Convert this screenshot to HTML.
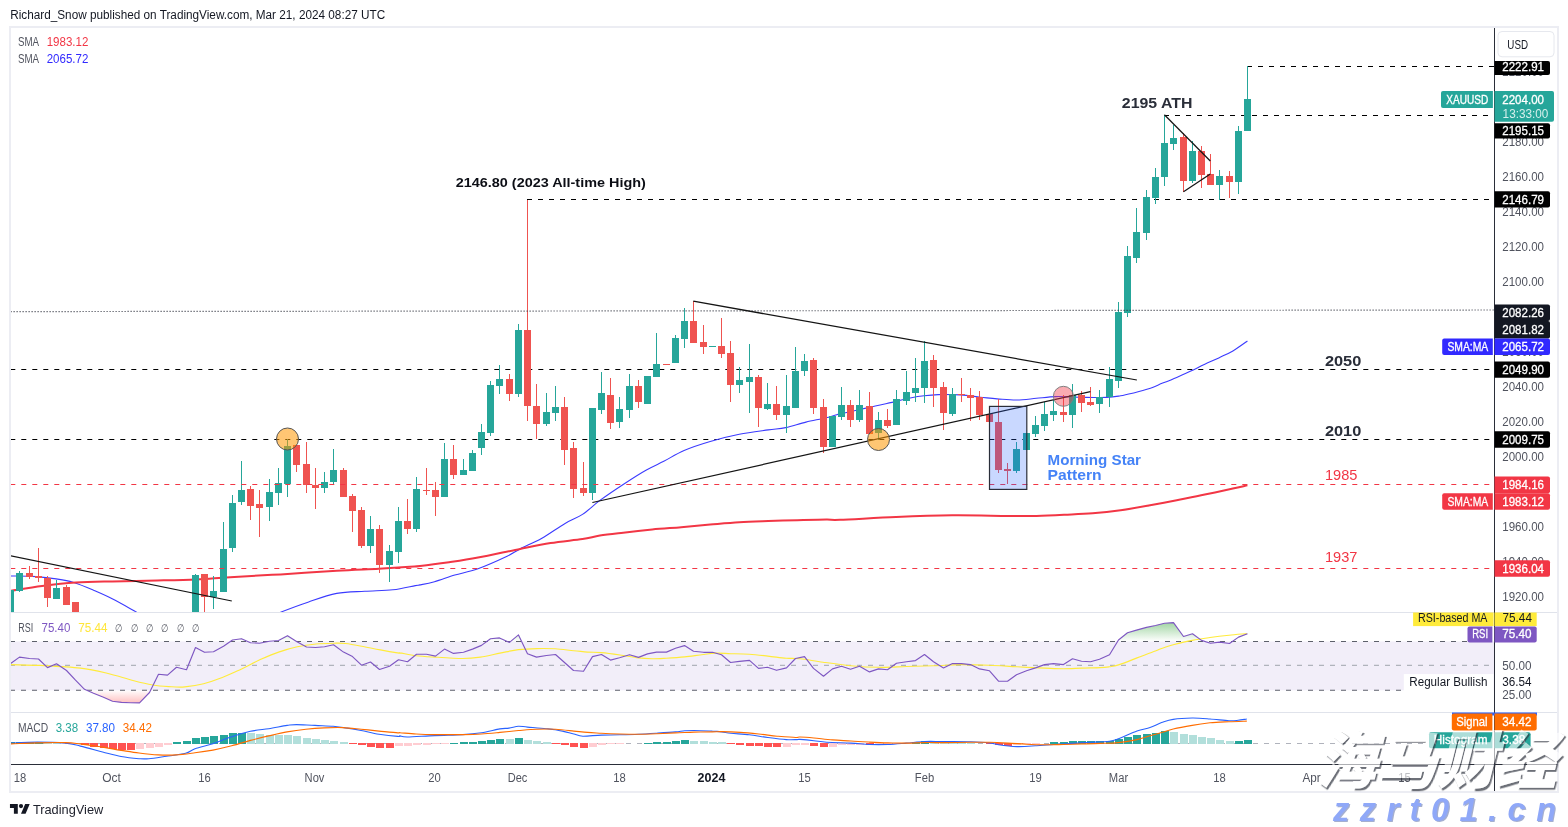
<!DOCTYPE html><html><head><meta charset="utf-8"><title>XAUUSD chart</title>
<style>html,body{margin:0;padding:0;background:#fff}body{width:1568px;height:827px;overflow:hidden;position:relative;font-family:"Liberation Sans",sans-serif}svg{position:absolute;left:0;top:0;display:block;will-change:transform}text{font-family:"Liberation Sans",sans-serif}</style></head><body>
<svg width="1568" height="827" viewBox="0 0 1568 827">
<defs>
<clipPath id="cm"><rect x="11" y="28" width="1483" height="584"/></clipPath>
<clipPath id="cr"><rect x="11" y="613" width="1483" height="99"/></clipPath>
<clipPath id="cd"><rect x="11" y="713" width="1483" height="51"/></clipPath>
<linearGradient id="gob" gradientUnits="userSpaceOnUse" x1="0" y1="605.3" x2="0" y2="641.5"><stop offset="0" stop-color="#4caf50" stop-opacity="1"/><stop offset="1" stop-color="#4caf50" stop-opacity="0"/></linearGradient>
<linearGradient id="gos" gradientUnits="userSpaceOnUse" x1="0" y1="690" x2="0" y2="726"><stop offset="0" stop-color="#ff5252" stop-opacity="0"/><stop offset="1" stop-color="#ff5252" stop-opacity="1"/></linearGradient>
</defs>
<rect width="1568" height="827" fill="#fff"/>
<rect x="10" y="27" width="1548" height="765" fill="none" stroke="#ecedf3" stroke-width="2"/>
<g shape-rendering="crispEdges">
<rect x="11" y="612" width="1546" height="1" fill="#e0e3eb"/>
<rect x="11" y="712" width="1546" height="1" fill="#e0e3eb"/>
</g>
<g clip-path="url(#cm)">
<line x1="10.3" y1="369.5" x2="1494" y2="369.5" stroke="#000" stroke-width="1.2" stroke-dasharray="5 6"/>
<line x1="10.3" y1="439.5" x2="1494" y2="439.5" stroke="#000" stroke-width="1.2" stroke-dasharray="5 6"/>
<line x1="527" y1="199.5" x2="1494" y2="199.5" stroke="#000" stroke-width="1.2" stroke-dasharray="5 6"/>
<line x1="1164" y1="115.5" x2="1494" y2="115.5" stroke="#000" stroke-width="1.2" stroke-dasharray="5 6"/>
<line x1="1247" y1="66.5" x2="1494" y2="66.5" stroke="#000" stroke-width="1.2" stroke-dasharray="5 6"/>
<path d="M10.1,576.0 C14.5,576.1 28.8,576.1 36.5,576.6 C44.1,577.1 50.0,577.9 56.1,578.9 C62.2,579.8 66.9,580.4 73.0,582.2 C79.0,584.0 86.1,587.0 92.6,589.8 C99.1,592.6 104.9,595.0 112.2,598.8 C119.6,602.5 131.0,609.1 136.7,612.2 C142.3,615.4 144.4,616.9 145.9,617.9" fill="none" stroke="#3b3bff" stroke-width="1.1" stroke-linejoin="round" />
<path d="M269.4,617.9 C271.3,616.9 274.1,614.9 280.6,612.2 C287.2,609.6 299.3,605.0 308.7,601.9 C318.0,598.7 327.4,595.2 336.7,593.4 C346.1,591.7 355.4,591.8 364.8,591.2 C374.1,590.6 384.4,590.7 392.9,589.8 C401.3,588.9 410.8,586.4 415.3,585.6 C419.8,584.8 416.8,585.6 420.0,584.9 C423.2,584.3 428.7,583.4 434.5,581.7 C440.3,580.1 447.6,577.2 454.8,575.0 C462.1,572.9 469.3,571.8 478.0,568.7 C486.8,565.5 500.1,559.5 507.1,556.2 C514.1,552.9 514.3,551.9 520.1,548.9 C525.9,545.9 534.4,542.4 541.9,538.2 C549.4,533.9 558.3,527.3 565.1,523.4 C571.9,519.4 576.7,518.2 582.5,514.4 C588.3,510.6 593.2,505.4 599.9,500.4 C606.7,495.5 615.4,489.6 623.2,484.5 C630.9,479.4 639.6,473.8 646.4,470.0 C653.2,466.1 657.5,464.5 663.8,461.3 C670.1,458.0 676.4,453.8 684.1,450.5 C691.9,447.2 701.0,444.2 710.2,441.5 C719.4,438.8 729.6,436.2 739.3,434.3 C748.9,432.3 760.5,431.0 768.3,429.9 C776.0,428.8 779.4,428.9 785.7,427.6 C792.0,426.3 799.2,423.7 806.0,422.1 C812.8,420.4 820.5,419.2 826.3,417.7 C832.1,416.3 838.6,414.0 840.8,413.4 C843.1,412.8 835.5,415.0 840.0,414.0 C844.5,413.0 858.7,409.7 868.1,407.6 C877.4,405.4 889.1,403.0 896.1,401.4 C903.1,399.8 905.5,398.9 910.2,398.0 C914.8,397.1 919.5,396.3 924.2,395.8 C928.9,395.2 932.1,394.8 938.2,394.6 C944.3,394.5 953.6,394.5 960.7,394.9 C967.7,395.3 974.2,396.5 980.3,397.2 C986.4,397.8 991.1,398.4 997.1,398.9 C1003.2,399.3 1010.2,400.1 1016.8,400.0 C1023.3,399.9 1029.9,398.9 1036.4,398.3 C1043.0,397.7 1049.1,396.8 1056.1,396.6 C1063.1,396.4 1070.1,397.0 1078.5,397.2 C1086.9,397.3 1099.6,397.7 1106.6,397.4 C1113.6,397.2 1115.9,396.6 1120.6,395.8 C1125.3,395.0 1130.0,393.8 1134.6,392.7 C1139.3,391.5 1144.0,390.3 1148.7,388.8 C1153.4,387.2 1158.0,385.0 1162.7,383.1 C1167.4,381.3 1172.1,379.5 1176.7,377.5 C1181.4,375.5 1186.1,373.3 1190.8,371.1 C1195.4,368.9 1200.1,366.5 1204.8,364.3 C1209.5,362.1 1214.1,360.1 1218.8,357.9 C1223.5,355.6 1228.1,353.7 1232.9,350.9 C1237.6,348.1 1245.0,342.7 1247.4,341.0" fill="none" stroke="#3b3bff" stroke-width="1.1" stroke-linejoin="round" />
<path d="M10.1,590.9 C15.4,590.1 31.1,587.3 42.1,585.9 C53.0,584.5 64.1,583.2 75.8,582.5 C87.5,581.8 98.7,581.7 112.2,581.4 C125.8,581.1 143.1,580.9 157.1,580.5 C171.2,580.2 184.3,580.0 196.4,579.4 C208.6,578.9 216.1,578.0 230.1,577.2 C244.1,576.3 262.8,575.4 280.6,574.4 C298.4,573.3 320.4,571.6 336.7,570.7 C353.1,569.8 366.7,569.4 378.8,568.8 C391.0,568.1 402.8,567.2 409.7,566.8 C416.6,566.3 413.4,566.8 420.0,566.0 C426.6,565.3 439.3,563.7 449.0,562.3 C458.7,560.9 466.2,559.9 478.0,557.6 C489.9,555.4 508.0,551.3 520.1,548.9 C532.2,546.5 540.2,544.8 550.6,543.1 C561.0,541.5 574.3,540.3 582.5,539.1 C590.8,537.8 593.2,536.6 599.9,535.6 C606.7,534.5 614.5,533.7 623.2,532.7 C631.9,531.6 642.5,530.4 652.2,529.5 C661.9,528.6 671.5,528.0 681.2,527.2 C690.9,526.3 700.6,525.4 710.2,524.5 C719.9,523.7 729.6,522.8 739.3,522.2 C748.9,521.6 758.6,521.4 768.3,521.1 C778.0,520.7 787.6,520.4 797.3,520.2 C807.0,519.9 819.2,519.7 826.3,519.6 C833.4,519.5 828.4,520.2 840.0,519.8 C851.6,519.4 877.4,517.7 896.1,517.0 C914.8,516.2 933.5,515.5 952.2,515.3 C971.0,515.1 994.3,515.8 1008.4,515.9 C1022.4,516.0 1027.1,516.1 1036.4,515.9 C1045.8,515.7 1055.1,515.2 1064.5,514.7 C1073.8,514.3 1083.2,514.1 1092.6,513.3 C1101.9,512.6 1111.3,511.6 1120.6,510.3 C1130.0,508.9 1139.3,507.2 1148.7,505.5 C1158.0,503.8 1167.4,502.0 1176.7,500.2 C1186.1,498.3 1195.4,496.5 1204.8,494.5 C1214.1,492.6 1225.7,490.2 1232.9,488.6 C1240.0,487.1 1245.0,485.8 1247.4,485.3" fill="none" stroke="#f23645" stroke-width="2" stroke-linejoin="round" />
<g shape-rendering="crispEdges">
<rect x="10" y="590" width="1" height="31" fill="#26a69a"/>
<rect x="7" y="590" width="7" height="31" fill="#26a69a"/>
<rect x="19" y="571" width="1" height="21" fill="#26a69a"/>
<rect x="16" y="573" width="7" height="18" fill="#26a69a"/>
<rect x="29" y="566" width="1" height="13" fill="#ef5350"/>
<rect x="26" y="573" width="7" height="4" fill="#ef5350"/>
<rect x="38" y="548" width="1" height="34" fill="#ef5350"/>
<rect x="35" y="576" width="7" height="2" fill="#ef5350"/>
<rect x="47" y="576" width="1" height="31" fill="#ef5350"/>
<rect x="44" y="578" width="7" height="20" fill="#ef5350"/>
<rect x="56" y="580" width="1" height="19" fill="#26a69a"/>
<rect x="53" y="588" width="7" height="11" fill="#26a69a"/>
<rect x="66" y="585" width="1" height="20" fill="#ef5350"/>
<rect x="63" y="587" width="7" height="18" fill="#ef5350"/>
<rect x="75" y="602" width="1" height="19" fill="#ef5350"/>
<rect x="72" y="602" width="7" height="19" fill="#ef5350"/>
<rect x="195" y="574" width="1" height="47" fill="#26a69a"/>
<rect x="192" y="575" width="7" height="46" fill="#26a69a"/>
<rect x="204" y="574" width="1" height="47" fill="#ef5350"/>
<rect x="201" y="574" width="7" height="23" fill="#ef5350"/>
<rect x="213" y="576" width="1" height="33" fill="#26a69a"/>
<rect x="210" y="591" width="7" height="6" fill="#26a69a"/>
<rect x="223" y="522" width="1" height="70" fill="#26a69a"/>
<rect x="220" y="549" width="7" height="43" fill="#26a69a"/>
<rect x="232" y="495" width="1" height="57" fill="#26a69a"/>
<rect x="229" y="503" width="7" height="45" fill="#26a69a"/>
<rect x="241" y="461" width="1" height="44" fill="#26a69a"/>
<rect x="238" y="490" width="7" height="12" fill="#26a69a"/>
<rect x="250" y="486" width="1" height="34" fill="#ef5350"/>
<rect x="247" y="489" width="7" height="17" fill="#ef5350"/>
<rect x="259" y="490" width="1" height="47" fill="#ef5350"/>
<rect x="256" y="504" width="7" height="4" fill="#ef5350"/>
<rect x="269" y="479" width="1" height="42" fill="#26a69a"/>
<rect x="266" y="492" width="7" height="15" fill="#26a69a"/>
<rect x="278" y="468" width="1" height="37" fill="#26a69a"/>
<rect x="275" y="483" width="7" height="10" fill="#26a69a"/>
<rect x="287" y="439" width="1" height="58" fill="#26a69a"/>
<rect x="284" y="446" width="7" height="38" fill="#26a69a"/>
<rect x="296" y="445" width="1" height="27" fill="#ef5350"/>
<rect x="293" y="445" width="7" height="20" fill="#ef5350"/>
<rect x="306" y="442" width="1" height="51" fill="#ef5350"/>
<rect x="303" y="464" width="7" height="21" fill="#ef5350"/>
<rect x="315" y="468" width="1" height="41" fill="#ef5350"/>
<rect x="312" y="485" width="7" height="3" fill="#ef5350"/>
<rect x="324" y="472" width="1" height="21" fill="#26a69a"/>
<rect x="321" y="482" width="7" height="6" fill="#26a69a"/>
<rect x="333" y="449" width="1" height="35" fill="#26a69a"/>
<rect x="330" y="470" width="7" height="12" fill="#26a69a"/>
<rect x="343" y="468" width="1" height="29" fill="#ef5350"/>
<rect x="340" y="470" width="7" height="27" fill="#ef5350"/>
<rect x="352" y="494" width="1" height="38" fill="#ef5350"/>
<rect x="349" y="496" width="7" height="15" fill="#ef5350"/>
<rect x="361" y="507" width="1" height="41" fill="#ef5350"/>
<rect x="358" y="510" width="7" height="36" fill="#ef5350"/>
<rect x="370" y="516" width="1" height="37" fill="#26a69a"/>
<rect x="367" y="529" width="7" height="17" fill="#26a69a"/>
<rect x="379" y="525" width="1" height="48" fill="#ef5350"/>
<rect x="376" y="529" width="7" height="36" fill="#ef5350"/>
<rect x="389" y="545" width="1" height="37" fill="#26a69a"/>
<rect x="386" y="551" width="7" height="14" fill="#26a69a"/>
<rect x="398" y="507" width="1" height="56" fill="#26a69a"/>
<rect x="395" y="521" width="7" height="31" fill="#26a69a"/>
<rect x="407" y="499" width="1" height="35" fill="#ef5350"/>
<rect x="404" y="521" width="7" height="8" fill="#ef5350"/>
<rect x="416" y="477" width="1" height="55" fill="#26a69a"/>
<rect x="413" y="489" width="7" height="40" fill="#26a69a"/>
<rect x="426" y="468" width="1" height="27" fill="#ef5350"/>
<rect x="423" y="490" width="7" height="1" fill="#ef5350"/>
<rect x="435" y="482" width="1" height="34" fill="#ef5350"/>
<rect x="432" y="490" width="7" height="7" fill="#ef5350"/>
<rect x="444" y="443" width="1" height="54" fill="#26a69a"/>
<rect x="441" y="459" width="7" height="38" fill="#26a69a"/>
<rect x="453" y="445" width="1" height="34" fill="#ef5350"/>
<rect x="450" y="459" width="7" height="16" fill="#ef5350"/>
<rect x="463" y="459" width="1" height="16" fill="#26a69a"/>
<rect x="460" y="470" width="7" height="5" fill="#26a69a"/>
<rect x="472" y="450" width="1" height="21" fill="#26a69a"/>
<rect x="469" y="453" width="7" height="18" fill="#26a69a"/>
<rect x="481" y="424" width="1" height="31" fill="#26a69a"/>
<rect x="478" y="432" width="7" height="16" fill="#26a69a"/>
<rect x="490" y="381" width="1" height="55" fill="#26a69a"/>
<rect x="487" y="385" width="7" height="48" fill="#26a69a"/>
<rect x="499" y="365" width="1" height="29" fill="#26a69a"/>
<rect x="496" y="379" width="7" height="7" fill="#26a69a"/>
<rect x="509" y="374" width="1" height="27" fill="#ef5350"/>
<rect x="506" y="379" width="7" height="15" fill="#ef5350"/>
<rect x="518" y="324" width="1" height="73" fill="#26a69a"/>
<rect x="515" y="330" width="7" height="64" fill="#26a69a"/>
<rect x="527" y="200" width="1" height="221" fill="#ef5350"/>
<rect x="524" y="330" width="7" height="76" fill="#ef5350"/>
<rect x="536" y="384" width="1" height="55" fill="#ef5350"/>
<rect x="533" y="406" width="7" height="18" fill="#ef5350"/>
<rect x="546" y="393" width="1" height="33" fill="#26a69a"/>
<rect x="543" y="412" width="7" height="12" fill="#26a69a"/>
<rect x="555" y="386" width="1" height="35" fill="#26a69a"/>
<rect x="552" y="407" width="7" height="6" fill="#26a69a"/>
<rect x="564" y="397" width="1" height="68" fill="#ef5350"/>
<rect x="561" y="407" width="7" height="43" fill="#ef5350"/>
<rect x="573" y="442" width="1" height="56" fill="#ef5350"/>
<rect x="570" y="448" width="7" height="41" fill="#ef5350"/>
<rect x="583" y="462" width="1" height="34" fill="#ef5350"/>
<rect x="580" y="488" width="7" height="5" fill="#ef5350"/>
<rect x="592" y="408" width="1" height="92" fill="#26a69a"/>
<rect x="589" y="408" width="7" height="85" fill="#26a69a"/>
<rect x="601" y="372" width="1" height="42" fill="#26a69a"/>
<rect x="598" y="393" width="7" height="17" fill="#26a69a"/>
<rect x="610" y="378" width="1" height="51" fill="#ef5350"/>
<rect x="607" y="395" width="7" height="28" fill="#ef5350"/>
<rect x="619" y="397" width="1" height="31" fill="#26a69a"/>
<rect x="616" y="409" width="7" height="13" fill="#26a69a"/>
<rect x="629" y="374" width="1" height="44" fill="#26a69a"/>
<rect x="626" y="386" width="7" height="24" fill="#26a69a"/>
<rect x="638" y="380" width="1" height="28" fill="#ef5350"/>
<rect x="635" y="386" width="7" height="16" fill="#ef5350"/>
<rect x="647" y="376" width="1" height="28" fill="#26a69a"/>
<rect x="644" y="376" width="7" height="28" fill="#26a69a"/>
<rect x="656" y="333" width="1" height="44" fill="#26a69a"/>
<rect x="653" y="364" width="7" height="13" fill="#26a69a"/>
<rect x="666" y="364" width="1" height="1" fill="#ef5350"/>
<rect x="663" y="364" width="7" height="1" fill="#ef5350"/>
<rect x="675" y="335" width="1" height="28" fill="#26a69a"/>
<rect x="672" y="338" width="7" height="25" fill="#26a69a"/>
<rect x="684" y="308" width="1" height="40" fill="#26a69a"/>
<rect x="681" y="321" width="7" height="18" fill="#26a69a"/>
<rect x="693" y="301" width="1" height="42" fill="#ef5350"/>
<rect x="690" y="321" width="7" height="22" fill="#ef5350"/>
<rect x="703" y="325" width="1" height="29" fill="#ef5350"/>
<rect x="700" y="342" width="7" height="5" fill="#ef5350"/>
<rect x="709" y="346" width="7" height="1" fill="#26a69a"/>
<rect x="721" y="318" width="1" height="40" fill="#ef5350"/>
<rect x="718" y="346" width="7" height="8" fill="#ef5350"/>
<rect x="730" y="341" width="1" height="61" fill="#ef5350"/>
<rect x="727" y="353" width="7" height="32" fill="#ef5350"/>
<rect x="739" y="367" width="1" height="26" fill="#26a69a"/>
<rect x="736" y="380" width="7" height="5" fill="#26a69a"/>
<rect x="749" y="344" width="1" height="69" fill="#26a69a"/>
<rect x="746" y="377" width="7" height="5" fill="#26a69a"/>
<rect x="758" y="375" width="1" height="52" fill="#ef5350"/>
<rect x="755" y="377" width="7" height="31" fill="#ef5350"/>
<rect x="767" y="383" width="1" height="27" fill="#26a69a"/>
<rect x="764" y="404" width="7" height="5" fill="#26a69a"/>
<rect x="776" y="386" width="1" height="34" fill="#ef5350"/>
<rect x="773" y="404" width="7" height="11" fill="#ef5350"/>
<rect x="786" y="375" width="1" height="58" fill="#26a69a"/>
<rect x="783" y="406" width="7" height="9" fill="#26a69a"/>
<rect x="795" y="347" width="1" height="61" fill="#26a69a"/>
<rect x="792" y="371" width="7" height="37" fill="#26a69a"/>
<rect x="804" y="354" width="1" height="22" fill="#26a69a"/>
<rect x="801" y="361" width="7" height="10" fill="#26a69a"/>
<rect x="813" y="358" width="1" height="56" fill="#ef5350"/>
<rect x="810" y="360" width="7" height="48" fill="#ef5350"/>
<rect x="823" y="399" width="1" height="54" fill="#ef5350"/>
<rect x="820" y="407" width="7" height="40" fill="#ef5350"/>
<rect x="832" y="416" width="1" height="31" fill="#26a69a"/>
<rect x="829" y="416" width="7" height="31" fill="#26a69a"/>
<rect x="841" y="387" width="1" height="33" fill="#26a69a"/>
<rect x="838" y="405" width="7" height="12" fill="#26a69a"/>
<rect x="850" y="400" width="1" height="27" fill="#ef5350"/>
<rect x="847" y="405" width="7" height="15" fill="#ef5350"/>
<rect x="859" y="390" width="1" height="32" fill="#26a69a"/>
<rect x="856" y="405" width="7" height="15" fill="#26a69a"/>
<rect x="869" y="392" width="1" height="42" fill="#ef5350"/>
<rect x="866" y="406" width="7" height="28" fill="#ef5350"/>
<rect x="878" y="412" width="1" height="28" fill="#26a69a"/>
<rect x="875" y="420" width="7" height="13" fill="#26a69a"/>
<rect x="887" y="409" width="1" height="19" fill="#ef5350"/>
<rect x="884" y="420" width="7" height="6" fill="#ef5350"/>
<rect x="896" y="390" width="1" height="35" fill="#26a69a"/>
<rect x="893" y="399" width="7" height="26" fill="#26a69a"/>
<rect x="906" y="371" width="1" height="34" fill="#26a69a"/>
<rect x="903" y="392" width="7" height="9" fill="#26a69a"/>
<rect x="915" y="358" width="1" height="44" fill="#26a69a"/>
<rect x="912" y="388" width="7" height="5" fill="#26a69a"/>
<rect x="924" y="341" width="1" height="62" fill="#26a69a"/>
<rect x="921" y="361" width="7" height="27" fill="#26a69a"/>
<rect x="933" y="355" width="1" height="52" fill="#ef5350"/>
<rect x="930" y="360" width="7" height="28" fill="#ef5350"/>
<rect x="943" y="382" width="1" height="48" fill="#ef5350"/>
<rect x="940" y="387" width="7" height="26" fill="#ef5350"/>
<rect x="952" y="388" width="1" height="28" fill="#26a69a"/>
<rect x="949" y="394" width="7" height="20" fill="#26a69a"/>
<rect x="961" y="378" width="1" height="24" fill="#ef5350"/>
<rect x="958" y="394" width="7" height="1" fill="#ef5350"/>
<rect x="970" y="388" width="1" height="33" fill="#ef5350"/>
<rect x="967" y="395" width="7" height="3" fill="#ef5350"/>
<rect x="979" y="391" width="1" height="29" fill="#ef5350"/>
<rect x="976" y="397" width="7" height="18" fill="#ef5350"/>
<rect x="989" y="406" width="1" height="16" fill="#ef5350"/>
<rect x="986" y="414" width="7" height="8" fill="#ef5350"/>
<rect x="998" y="399" width="1" height="74" fill="#ef5350"/>
<rect x="995" y="422" width="7" height="48" fill="#ef5350"/>
<rect x="1007" y="463" width="1" height="21" fill="#ef5350"/>
<rect x="1004" y="469" width="7" height="2" fill="#ef5350"/>
<rect x="1016" y="442" width="1" height="31" fill="#26a69a"/>
<rect x="1013" y="449" width="7" height="22" fill="#26a69a"/>
<rect x="1026" y="433" width="1" height="17" fill="#26a69a"/>
<rect x="1023" y="433" width="7" height="17" fill="#26a69a"/>
<rect x="1035" y="416" width="1" height="21" fill="#26a69a"/>
<rect x="1032" y="425" width="7" height="9" fill="#26a69a"/>
<rect x="1044" y="402" width="1" height="29" fill="#26a69a"/>
<rect x="1041" y="414" width="7" height="12" fill="#26a69a"/>
<rect x="1053" y="400" width="1" height="21" fill="#26a69a"/>
<rect x="1050" y="411" width="7" height="4" fill="#26a69a"/>
<rect x="1063" y="395" width="1" height="27" fill="#ef5350"/>
<rect x="1060" y="412" width="7" height="3" fill="#ef5350"/>
<rect x="1072" y="384" width="1" height="44" fill="#26a69a"/>
<rect x="1069" y="395" width="7" height="20" fill="#26a69a"/>
<rect x="1081" y="391" width="1" height="21" fill="#ef5350"/>
<rect x="1078" y="395" width="7" height="8" fill="#ef5350"/>
<rect x="1090" y="387" width="1" height="19" fill="#ef5350"/>
<rect x="1087" y="402" width="7" height="3" fill="#ef5350"/>
<rect x="1099" y="390" width="1" height="23" fill="#26a69a"/>
<rect x="1096" y="397" width="7" height="7" fill="#26a69a"/>
<rect x="1109" y="367" width="1" height="40" fill="#26a69a"/>
<rect x="1106" y="379" width="7" height="18" fill="#26a69a"/>
<rect x="1118" y="302" width="1" height="86" fill="#26a69a"/>
<rect x="1115" y="312" width="7" height="69" fill="#26a69a"/>
<rect x="1127" y="246" width="1" height="71" fill="#26a69a"/>
<rect x="1124" y="256" width="7" height="57" fill="#26a69a"/>
<rect x="1136" y="208" width="1" height="55" fill="#26a69a"/>
<rect x="1133" y="232" width="7" height="26" fill="#26a69a"/>
<rect x="1146" y="190" width="1" height="50" fill="#26a69a"/>
<rect x="1143" y="197" width="7" height="36" fill="#26a69a"/>
<rect x="1155" y="168" width="1" height="36" fill="#26a69a"/>
<rect x="1152" y="177" width="7" height="21" fill="#26a69a"/>
<rect x="1164" y="115" width="1" height="71" fill="#26a69a"/>
<rect x="1161" y="143" width="7" height="34" fill="#26a69a"/>
<rect x="1173" y="125" width="1" height="25" fill="#26a69a"/>
<rect x="1170" y="138" width="7" height="6" fill="#26a69a"/>
<rect x="1183" y="133" width="1" height="59" fill="#ef5350"/>
<rect x="1180" y="137" width="7" height="44" fill="#ef5350"/>
<rect x="1192" y="141" width="1" height="42" fill="#26a69a"/>
<rect x="1189" y="151" width="7" height="30" fill="#26a69a"/>
<rect x="1201" y="146" width="1" height="42" fill="#ef5350"/>
<rect x="1198" y="151" width="7" height="24" fill="#ef5350"/>
<rect x="1210" y="154" width="1" height="31" fill="#ef5350"/>
<rect x="1207" y="174" width="7" height="11" fill="#ef5350"/>
<rect x="1219" y="170" width="1" height="30" fill="#26a69a"/>
<rect x="1216" y="176" width="7" height="9" fill="#26a69a"/>
<rect x="1229" y="171" width="1" height="27" fill="#ef5350"/>
<rect x="1226" y="176" width="7" height="6" fill="#ef5350"/>
<rect x="1238" y="126" width="1" height="68" fill="#26a69a"/>
<rect x="1235" y="131" width="7" height="51" fill="#26a69a"/>
<rect x="1247" y="66" width="1" height="65" fill="#26a69a"/>
<rect x="1244" y="99" width="7" height="32" fill="#26a69a"/>
</g>
<line x1="10.6" y1="311.6" x2="1494" y2="310" stroke="#2e313c" stroke-width="1.2" stroke-dasharray="1 2"/>
<line x1="10.3" y1="484.5" x2="1494" y2="484.5" stroke="#f23645" stroke-width="1.1" stroke-dasharray="5 6"/>
<line x1="10.3" y1="568.5" x2="1494" y2="568.5" stroke="#f23645" stroke-width="1.1" stroke-dasharray="5 6"/>
<line x1="10.1" y1="555.6" x2="231.8" y2="601" stroke="#141414" stroke-width="1.25"/>
<line x1="592.4" y1="502.5" x2="1090.4" y2="391.6" stroke="#141414" stroke-width="1.25"/>
<line x1="693.3" y1="301.2" x2="1136.9" y2="380" stroke="#141414" stroke-width="1.25"/>
<line x1="1164.4" y1="114.8" x2="1210.3" y2="161" stroke="#141414" stroke-width="1.25"/>
<line x1="1183.5" y1="191.8" x2="1210.3" y2="173.9" stroke="#141414" stroke-width="1.25"/>
<rect x="989.5" y="406.4" width="37.3" height="83" fill="#2962ff" fill-opacity="0.25" stroke="#2a2e39" stroke-width="1.2"/>
<circle cx="287.5" cy="439" r="11" fill="#ff9800" fill-opacity="0.55" stroke="#555" stroke-width="1"/>
<circle cx="878.5" cy="439.5" r="11" fill="#ff9800" fill-opacity="0.55" stroke="#555" stroke-width="1"/>
<circle cx="1063.4" cy="396.3" r="10" fill="#f23645" fill-opacity="0.42" stroke="#808080" stroke-width="1"/>
<text x="455.8" y="187" font-size="13" fill="#0c0e15" font-weight="bold" text-anchor="start" textLength="190" lengthAdjust="spacingAndGlyphs" >2146.80 (2023 All-time High)</text>
<text x="1121.8" y="108" font-size="14" fill="#2a2e39" font-weight="bold" text-anchor="start" textLength="70.6" lengthAdjust="spacingAndGlyphs" >2195 ATH</text>
<text x="1324.9" y="366.2" font-size="14" fill="#2a2e39" font-weight="bold" text-anchor="start" textLength="36.4" lengthAdjust="spacingAndGlyphs" >2050</text>
<text x="1324.9" y="436.3" font-size="14" fill="#2a2e39" font-weight="bold" text-anchor="start" textLength="36.4" lengthAdjust="spacingAndGlyphs" >2010</text>
<text x="1324.9" y="480" font-size="14" fill="#f23645" font-weight="normal" text-anchor="start" textLength="32.5" lengthAdjust="spacingAndGlyphs" >1985</text>
<text x="1324.9" y="562.4" font-size="14" fill="#f23645" font-weight="normal" text-anchor="start" textLength="32.5" lengthAdjust="spacingAndGlyphs" >1937</text>
<text x="1047.6" y="464.7" font-size="15" fill="#4583f7" font-weight="bold" text-anchor="start" textLength="93.4" lengthAdjust="spacingAndGlyphs" >Morning Star</text>
<text x="1047.6" y="480.3" font-size="15" fill="#4583f7" font-weight="bold" text-anchor="start" textLength="54.1" lengthAdjust="spacingAndGlyphs" >Pattern</text>
</g>
<text x="18" y="45.8" font-size="12" fill="#50535e" font-weight="normal" text-anchor="start" textLength="21.1" lengthAdjust="spacingAndGlyphs" >SMA</text>
<text x="46.7" y="45.8" font-size="12" fill="#f23645" font-weight="normal" text-anchor="start" textLength="41.7" lengthAdjust="spacingAndGlyphs" >1983.12</text>
<text x="18" y="63" font-size="12" fill="#50535e" font-weight="normal" text-anchor="start" textLength="21.1" lengthAdjust="spacingAndGlyphs" >SMA</text>
<text x="46.7" y="63" font-size="12" fill="#3129ff" font-weight="normal" text-anchor="start" textLength="41.7" lengthAdjust="spacingAndGlyphs" >2065.72</text>
<text x="10.2" y="18.6" font-size="12" fill="#131722" font-weight="normal" text-anchor="start" textLength="375" lengthAdjust="spacingAndGlyphs" >Richard_Snow published on TradingView.com, Mar 21, 2024 08:27 UTC</text>
<g clip-path="url(#cr)">
<rect x="11" y="641.5" width="1483" height="48.8" fill="#7e57c2" fill-opacity="0.1"/>
<line x1="10" y1="641.5" x2="1494" y2="641.5" stroke="#5d606b" stroke-width="1.1" stroke-dasharray="5 6"/>
<line x1="10" y1="665.4" x2="1494" y2="665.4" stroke="#b0b3bc" stroke-width="1.1" stroke-dasharray="5 6"/>
<line x1="10" y1="690.3" x2="1494" y2="690.3" stroke="#5d606b" stroke-width="1.1" stroke-dasharray="5 6"/>
<path d="M230.3,641.5 L232.5,640.0 L241.5,638.7 L247.9,641.5Z" fill="url(#gob)"/>
<path d="M268.6,641.5 L269.5,641.3 L278.5,640.5 L287.5,635.7 L296.3,641.5Z" fill="url(#gob)"/>
<path d="M486.7,641.5 L490.5,638.7 L499.5,637.9 L507.5,641.5Z" fill="url(#gob)"/>
<path d="M510.6,641.5 L518.5,634.9 L521.7,641.5Z" fill="url(#gob)"/>
<path d="M1117.6,641.5 L1118.5,640.0 L1127.5,632.8 L1136.5,630.1 L1146.5,627.4 L1155.5,625.5 L1164.5,623.2 L1173.5,622.6 L1183.5,636.5 L1192.5,633.8 L1201.5,640.4 L1205.0,641.5Z" fill="url(#gob)"/>
<path d="M1232.3,641.5 L1238.5,637.1 L1247.5,633.8Z" fill="url(#gob)"/>
<path d="M86.8,690.3 L93.5,693.3 L103.5,697.3 L112.5,701.3 L121.5,702.4 L130.5,702.7 L139.5,702.9 L149.5,692.5 L150.6,690.3Z" fill="url(#gos)"/>
<path d="M10.2,664.6 C15.2,664.8 28.5,664.9 40.2,665.4 C51.9,666.0 69.2,666.8 80.4,668.1 C91.5,669.4 98.2,671.1 107.1,673.2 C116.1,675.3 126.3,678.8 133.9,680.7 C141.5,682.7 146.9,684.0 152.7,685.0 C158.5,686.0 163.4,686.3 168.8,686.6 C174.1,686.9 179.0,687.4 184.8,686.9 C190.6,686.4 197.3,685.2 203.6,683.7 C209.8,682.1 216.1,679.9 222.3,677.5 C228.6,675.1 234.8,672.1 241.1,669.2 C247.3,666.2 253.6,662.7 259.8,659.8 C266.1,657.0 272.3,654.2 278.6,652.1 C284.8,649.9 291.1,648.0 297.3,646.7 C303.6,645.4 309.8,644.6 316.1,644.0 C322.3,643.4 329.9,643.3 334.8,643.2 C339.7,643.1 341.1,643.0 345.5,643.5 C350.0,644.0 355.8,645.1 361.6,646.2 C367.4,647.2 374.1,648.8 380.4,649.9 C386.6,651.1 395.8,652.6 399.1,653.1 C402.4,653.6 397.2,652.4 400.0,652.9 C402.8,653.3 410.3,655.1 416.1,655.8 C421.9,656.5 427.0,656.7 434.8,657.1 C442.6,657.6 455.4,658.5 462.9,658.5 C470.5,658.5 474.2,658.0 480.4,657.1 C486.5,656.2 493.6,654.4 499.9,653.1 C506.2,651.9 512.2,650.4 518.4,649.6 C524.6,648.9 530.7,648.7 536.9,648.6 C543.0,648.4 549.2,648.5 555.4,648.8 C561.5,649.2 568.5,650.2 573.8,650.7 C579.2,651.2 582.9,651.7 587.5,652.1 C592.1,652.4 596.0,652.1 601.4,652.6 C606.8,653.1 613.8,654.1 619.9,655.0 C626.1,655.9 633.1,657.3 638.4,657.9 C643.7,658.6 647.1,658.7 651.8,658.8 C656.4,658.8 660.8,658.5 666.2,658.2 C671.7,657.9 678.6,657.5 684.7,656.9 C690.9,656.2 698.0,655.1 703.2,654.5 C708.4,653.8 711.5,653.3 716.1,653.1 C720.7,653.0 725.3,653.5 730.8,653.7 C736.3,653.8 743.1,653.8 749.3,654.2 C755.4,654.6 761.6,655.4 767.8,656.1 C773.9,656.7 780.9,657.8 786.2,658.2 C791.6,658.7 793.9,658.1 800.0,658.8 C806.1,659.4 814.6,661.1 823.0,662.2 C831.5,663.4 841.7,664.9 850.9,665.7 C860.1,666.6 869.2,667.2 878.5,667.3 C887.7,667.5 897.1,666.8 906.3,666.5 C915.6,666.2 924.7,666.0 933.9,665.7 C943.1,665.4 952.3,664.7 961.5,664.6 C970.8,664.6 980.1,664.8 989.4,665.2 C998.6,665.5 1007.7,666.3 1017.0,666.8 C1026.2,667.3 1037.1,667.8 1044.8,668.1 C1052.5,668.4 1057.1,668.7 1063.3,668.7 C1069.5,668.7 1075.6,668.3 1081.8,668.1 C1087.9,667.9 1095.7,667.8 1100.3,667.6 C1104.9,667.4 1106.3,667.2 1109.4,666.8 C1112.4,666.3 1113.9,666.4 1118.5,664.9 C1123.1,663.4 1130.8,660.3 1137.0,657.9 C1143.1,655.6 1151.3,652.6 1155.4,651.0 C1159.6,649.4 1158.6,649.5 1161.6,648.5 C1164.6,647.5 1168.1,646.2 1173.2,644.8 C1178.3,643.5 1186.1,641.6 1192.2,640.4 C1198.3,639.2 1203.9,638.4 1210.0,637.5 C1216.1,636.6 1222.8,635.8 1229.0,635.2 C1235.1,634.5 1243.8,633.9 1246.8,633.6" fill="none" stroke="#ffeb3b" stroke-width="1.15" stroke-linejoin="round" />
<path d="M10.5,663.6 L19.5,657.1 L29.5,658.5 L38.5,659.0 L47.5,667.6 L56.5,663.8 L66.5,670.5 L75.5,680.2 L84.5,689.3 L93.5,693.3 L103.5,697.3 L112.5,701.3 L121.5,702.4 L130.5,702.7 L139.5,702.9 L149.5,692.5 L158.5,674.3 L167.5,675.1 L176.5,667.3 L186.5,669.7 L195.5,647.5 L204.5,652.3 L213.5,651.8 L223.5,646.2 L232.5,640.0 L241.5,638.7 L250.5,642.7 L259.5,643.2 L269.5,641.3 L278.5,640.5 L287.5,635.7 L296.5,641.6 L306.5,647.0 L315.5,647.5 L324.5,646.7 L333.5,644.8 L343.5,652.1 L352.5,656.6 L361.5,665.2 L370.5,662.0 L379.5,669.5 L389.5,666.2 L398.5,659.8 L407.5,661.7 L416.5,654.2 L426.5,654.2 L435.5,656.1 L444.5,649.1 L453.5,653.4 L463.5,652.3 L472.5,649.1 L481.5,645.4 L490.5,638.7 L499.5,637.9 L509.5,642.4 L518.5,634.9 L527.5,653.7 L536.5,657.1 L546.5,655.5 L555.5,654.5 L564.5,662.5 L573.5,670.5 L583.5,671.3 L592.5,656.6 L601.5,654.5 L610.5,660.1 L619.5,657.7 L629.5,654.7 L638.5,657.4 L647.5,653.9 L656.5,652.1 L666.5,652.1 L675.5,648.3 L684.5,645.6 L693.5,651.2 L703.5,652.3 L712.5,652.3 L721.5,654.7 L730.5,662.5 L739.5,661.4 L749.5,660.4 L758.5,668.4 L767.5,667.3 L776.5,670.3 L786.5,667.9 L795.5,658.5 L804.5,656.6 L813.5,668.4 L823.5,676.2 L832.5,668.9 L841.5,666.2 L850.5,669.2 L859.5,666.2 L869.5,671.9 L878.5,668.9 L887.5,669.7 L896.5,663.3 L906.5,661.7 L915.5,660.6 L924.5,654.5 L933.5,661.7 L943.5,667.9 L952.5,663.6 L961.5,663.6 L970.5,664.6 L979.5,668.9 L989.5,670.8 L998.5,681.2 L1007.5,681.2 L1016.5,674.8 L1026.5,670.8 L1035.5,667.9 L1044.5,664.6 L1053.5,663.6 L1063.5,664.6 L1072.5,658.8 L1081.5,661.2 L1090.5,661.7 L1099.5,659.3 L1109.5,654.7 L1118.5,640.0 L1127.5,632.8 L1136.5,630.1 L1146.5,627.4 L1155.5,625.5 L1164.5,623.2 L1173.5,622.6 L1183.5,636.5 L1192.5,633.8 L1201.5,640.4 L1210.5,643.3 L1219.5,642.1 L1229.5,643.5 L1238.5,637.1 L1247.5,633.8" fill="none" stroke="#7e57c2" stroke-width="1.15" stroke-linejoin="round" />
</g>
<text x="18.2" y="631.8" font-size="12" fill="#50535e" font-weight="normal" text-anchor="start" textLength="15" lengthAdjust="spacingAndGlyphs" >RSI</text>
<text x="41.5" y="631.8" font-size="12" fill="#7e57c2" font-weight="normal" text-anchor="start" textLength="28.8" lengthAdjust="spacingAndGlyphs" >75.40</text>
<text x="78.3" y="631.8" font-size="12" fill="#ffe63b" font-weight="normal" text-anchor="start" textLength="29.2" lengthAdjust="spacingAndGlyphs" >75.44</text>
<text x="115.3" y="631.8" font-size="11" fill="#50535e" font-weight="normal" text-anchor="start" textLength="7.6" lengthAdjust="spacingAndGlyphs" >∅</text>
<text x="130.6" y="631.8" font-size="11" fill="#50535e" font-weight="normal" text-anchor="start" textLength="7.6" lengthAdjust="spacingAndGlyphs" >∅</text>
<text x="145.9" y="631.8" font-size="11" fill="#50535e" font-weight="normal" text-anchor="start" textLength="7.6" lengthAdjust="spacingAndGlyphs" >∅</text>
<text x="161.2" y="631.8" font-size="11" fill="#50535e" font-weight="normal" text-anchor="start" textLength="7.6" lengthAdjust="spacingAndGlyphs" >∅</text>
<text x="176.5" y="631.8" font-size="11" fill="#50535e" font-weight="normal" text-anchor="start" textLength="7.6" lengthAdjust="spacingAndGlyphs" >∅</text>
<text x="191.8" y="631.8" font-size="11" fill="#50535e" font-weight="normal" text-anchor="start" textLength="7.6" lengthAdjust="spacingAndGlyphs" >∅</text>
<g clip-path="url(#cd)">
<line x1="10" y1="743.5" x2="1494" y2="743.5" stroke="#b0b3bc" stroke-width="1.1" stroke-dasharray="5 6"/>
<g shape-rendering="crispEdges">
<rect x="7" y="742.2" width="8" height="1.8" fill="#26a69a"/>
<rect x="16" y="741.7" width="8" height="2.3" fill="#26a69a"/>
<rect x="26" y="742.2" width="8" height="1.8" fill="#26a69a"/>
<rect x="35" y="742.2" width="8" height="1.8" fill="#26a69a"/>
<rect x="44" y="742.5" width="8" height="1.5" fill="#b2dfdb"/>
<rect x="53" y="742.5" width="8" height="1.5" fill="#b2dfdb"/>
<rect x="81" y="743" width="8" height="2.1" fill="#ff5252"/>
<rect x="90" y="743" width="8" height="3.5" fill="#ff5252"/>
<rect x="100" y="743" width="8" height="4.6" fill="#ff5252"/>
<rect x="109" y="743" width="8" height="6.2" fill="#ff5252"/>
<rect x="118" y="743" width="8" height="6.7" fill="#ff5252"/>
<rect x="127" y="743" width="8" height="6.7" fill="#ff5252"/>
<rect x="136" y="743" width="8" height="6.4" fill="#ffcdd2"/>
<rect x="146" y="743" width="8" height="5.1" fill="#ffcdd2"/>
<rect x="155" y="743" width="8" height="3.5" fill="#ffcdd2"/>
<rect x="164" y="743" width="8" height="1.6" fill="#ffcdd2"/>
<rect x="173" y="741.7" width="8" height="2.3" fill="#26a69a"/>
<rect x="183" y="740.6" width="8" height="3.4" fill="#26a69a"/>
<rect x="192" y="737.9" width="8" height="6.1" fill="#26a69a"/>
<rect x="201" y="736.8" width="8" height="7.2" fill="#26a69a"/>
<rect x="210" y="735.8" width="8" height="8.2" fill="#26a69a"/>
<rect x="220" y="734.7" width="8" height="9.3" fill="#26a69a"/>
<rect x="229" y="733.1" width="8" height="10.9" fill="#26a69a"/>
<rect x="238" y="732.6" width="8" height="11.4" fill="#26a69a"/>
<rect x="247" y="732.8" width="8" height="11.2" fill="#b2dfdb"/>
<rect x="256" y="733.9" width="8" height="10.1" fill="#b2dfdb"/>
<rect x="266" y="735.0" width="8" height="9.0" fill="#b2dfdb"/>
<rect x="275" y="734.7" width="8" height="9.3" fill="#b2dfdb"/>
<rect x="284" y="734.7" width="8" height="9.3" fill="#b2dfdb"/>
<rect x="293" y="735.8" width="8" height="8.2" fill="#b2dfdb"/>
<rect x="303" y="737.9" width="8" height="6.1" fill="#b2dfdb"/>
<rect x="312" y="739.0" width="8" height="5.0" fill="#b2dfdb"/>
<rect x="321" y="740.1" width="8" height="3.9" fill="#b2dfdb"/>
<rect x="330" y="740.9" width="8" height="3.1" fill="#b2dfdb"/>
<rect x="340" y="741.9" width="8" height="2.1" fill="#b2dfdb"/>
<rect x="349" y="743" width="8" height="0.5" fill="#ff5252"/>
<rect x="358" y="743" width="8" height="2.1" fill="#ff5252"/>
<rect x="367" y="743" width="8" height="3.5" fill="#ff5252"/>
<rect x="376" y="743" width="8" height="4.6" fill="#ff5252"/>
<rect x="386" y="743" width="8" height="4.6" fill="#ff5252"/>
<rect x="395" y="743" width="8" height="3.2" fill="#ffcdd2"/>
<rect x="404" y="743" width="8" height="3.2" fill="#ffcdd2"/>
<rect x="413" y="743" width="8" height="2.4" fill="#ffcdd2"/>
<rect x="423" y="743" width="8" height="1.6" fill="#ffcdd2"/>
<rect x="432" y="743" width="8" height="1.3" fill="#ffcdd2"/>
<rect x="441" y="743" width="8" height="0.5" fill="#ffcdd2"/>
<rect x="450" y="742.5" width="8" height="1.5" fill="#26a69a"/>
<rect x="460" y="741.7" width="8" height="2.3" fill="#26a69a"/>
<rect x="469" y="741.7" width="8" height="2.3" fill="#26a69a"/>
<rect x="478" y="740.6" width="8" height="3.4" fill="#26a69a"/>
<rect x="487" y="739.8" width="8" height="4.2" fill="#26a69a"/>
<rect x="496" y="738.7" width="8" height="5.3" fill="#26a69a"/>
<rect x="506" y="739.0" width="8" height="5.0" fill="#b2dfdb"/>
<rect x="515" y="737.9" width="8" height="6.1" fill="#26a69a"/>
<rect x="524" y="739.8" width="8" height="4.2" fill="#b2dfdb"/>
<rect x="533" y="740.9" width="8" height="3.1" fill="#b2dfdb"/>
<rect x="543" y="741.7" width="8" height="2.3" fill="#b2dfdb"/>
<rect x="552" y="743" width="8" height="0.5" fill="#ff5252"/>
<rect x="561" y="743" width="8" height="1.6" fill="#ff5252"/>
<rect x="570" y="743" width="8" height="3.5" fill="#ff5252"/>
<rect x="580" y="743" width="8" height="4.6" fill="#ff5252"/>
<rect x="589" y="743" width="8" height="3.5" fill="#ffcdd2"/>
<rect x="598" y="743" width="8" height="2.1" fill="#ffcdd2"/>
<rect x="607" y="743" width="8" height="1.3" fill="#ffcdd2"/>
<rect x="616" y="743" width="8" height="0.8" fill="#ffcdd2"/>
<rect x="626" y="743" width="8" height="0.4" fill="#ffcdd2"/>
<rect x="635" y="743" width="8" height="0.4" fill="#ffcdd2"/>
<rect x="644" y="742.5" width="8" height="1.5" fill="#26a69a"/>
<rect x="653" y="741.7" width="8" height="2.3" fill="#26a69a"/>
<rect x="663" y="741.7" width="8" height="2.3" fill="#26a69a"/>
<rect x="672" y="740.6" width="8" height="3.4" fill="#26a69a"/>
<rect x="681" y="739.8" width="8" height="4.2" fill="#26a69a"/>
<rect x="690" y="740.9" width="8" height="3.1" fill="#b2dfdb"/>
<rect x="700" y="741.1" width="8" height="2.9" fill="#b2dfdb"/>
<rect x="709" y="741.7" width="8" height="2.3" fill="#b2dfdb"/>
<rect x="718" y="741.9" width="8" height="2.1" fill="#b2dfdb"/>
<rect x="727" y="743" width="8" height="0.8" fill="#ff5252"/>
<rect x="736" y="743" width="8" height="1.6" fill="#ff5252"/>
<rect x="746" y="743" width="8" height="2.7" fill="#ff5252"/>
<rect x="755" y="743" width="8" height="2.7" fill="#ff5252"/>
<rect x="764" y="743" width="8" height="3.8" fill="#ff5252"/>
<rect x="773" y="743" width="8" height="3.8" fill="#ff5252"/>
<rect x="783" y="743" width="8" height="3.5" fill="#ffcdd2"/>
<rect x="792" y="743" width="8" height="2.4" fill="#ffcdd2"/>
<rect x="801" y="743" width="8" height="1.6" fill="#ffcdd2"/>
<rect x="810" y="743" width="8" height="2.7" fill="#ff5252"/>
<rect x="820" y="743" width="8" height="3.8" fill="#ff5252"/>
<rect x="829" y="743" width="8" height="3.5" fill="#ffcdd2"/>
<rect x="838" y="743" width="8" height="2.4" fill="#ffcdd2"/>
<rect x="847" y="743" width="8" height="2.1" fill="#ffcdd2"/>
<rect x="856" y="743" width="8" height="1.9" fill="#ffcdd2"/>
<rect x="866" y="743" width="8" height="2.4" fill="#ff5252"/>
<rect x="875" y="743" width="8" height="1.6" fill="#ffcdd2"/>
<rect x="884" y="743" width="8" height="1.1" fill="#ffcdd2"/>
<rect x="893" y="743" width="8" height="0.5" fill="#ffcdd2"/>
<rect x="912" y="741.9" width="8" height="2.1" fill="#26a69a"/>
<rect x="921" y="741.1" width="8" height="2.9" fill="#26a69a"/>
<rect x="930" y="741.7" width="8" height="2.3" fill="#b2dfdb"/>
<rect x="940" y="741.9" width="8" height="2.1" fill="#b2dfdb"/>
<rect x="949" y="742.2" width="8" height="1.8" fill="#b2dfdb"/>
<rect x="958" y="742.2" width="8" height="1.8" fill="#b2dfdb"/>
<rect x="967" y="742.5" width="8" height="1.5" fill="#b2dfdb"/>
<rect x="976" y="743" width="8" height="0.4" fill="#ff5252"/>
<rect x="986" y="743" width="8" height="0.7" fill="#ff5252"/>
<rect x="995" y="743" width="8" height="2.1" fill="#ff5252"/>
<rect x="1004" y="743" width="8" height="2.7" fill="#ff5252"/>
<rect x="1013" y="743" width="8" height="2.1" fill="#ffcdd2"/>
<rect x="1023" y="743" width="8" height="1.1" fill="#ffcdd2"/>
<rect x="1032" y="743" width="8" height="0.5" fill="#ffcdd2"/>
<rect x="1050" y="741.9" width="8" height="2.1" fill="#26a69a"/>
<rect x="1060" y="741.7" width="8" height="2.3" fill="#26a69a"/>
<rect x="1069" y="741.1" width="8" height="2.9" fill="#26a69a"/>
<rect x="1078" y="741.1" width="8" height="2.9" fill="#26a69a"/>
<rect x="1087" y="741.1" width="8" height="2.9" fill="#26a69a"/>
<rect x="1096" y="740.9" width="8" height="3.1" fill="#26a69a"/>
<rect x="1106" y="740.9" width="8" height="3.1" fill="#26a69a"/>
<rect x="1115" y="739.0" width="8" height="5.0" fill="#26a69a"/>
<rect x="1124" y="736.8" width="8" height="7.2" fill="#26a69a"/>
<rect x="1133" y="735.0" width="8" height="9.0" fill="#26a69a"/>
<rect x="1143" y="733.9" width="8" height="10.1" fill="#26a69a"/>
<rect x="1152" y="732.5" width="8" height="11.5" fill="#26a69a"/>
<rect x="1161" y="731.4" width="8" height="12.6" fill="#26a69a"/>
<rect x="1170" y="731.6" width="8" height="12.4" fill="#b2dfdb"/>
<rect x="1180" y="733.5" width="8" height="10.5" fill="#b2dfdb"/>
<rect x="1189" y="734.7" width="8" height="9.3" fill="#b2dfdb"/>
<rect x="1198" y="736.6" width="8" height="7.4" fill="#b2dfdb"/>
<rect x="1207" y="737.6" width="8" height="6.4" fill="#b2dfdb"/>
<rect x="1216" y="739.7" width="8" height="4.3" fill="#b2dfdb"/>
<rect x="1226" y="740.7" width="8" height="3.3" fill="#b2dfdb"/>
<rect x="1235" y="740.7" width="8" height="3.3" fill="#26a69a"/>
<rect x="1244" y="739.5" width="8" height="4.5" fill="#26a69a"/>
</g>
<path d="M10.2,743.1 C14.7,742.9 28.3,742.1 37.5,742.1 C46.7,742.1 58.5,742.5 65.6,743.1 C72.8,743.8 74.2,744.6 80.4,746.1 C86.5,747.5 95.8,750.2 102.6,752.0 C109.4,753.7 115.0,755.4 121.1,756.5 C127.1,757.6 134.4,758.3 139.0,758.7 C143.7,759.0 144.3,759.1 148.9,758.7 C153.5,758.3 160.5,757.1 166.6,756.2 C172.7,755.4 180.9,754.6 185.6,753.3 C190.4,752.1 190.4,750.4 195.0,748.8 C199.6,747.1 206.8,745.7 212.9,743.7 C219.1,741.7 225.4,738.8 231.7,736.7 C237.9,734.6 244.3,732.7 250.4,731.3 C256.6,730.0 262.5,729.6 268.7,728.7 C274.8,727.7 282.5,726.1 287.1,725.4 C291.8,724.8 291.9,724.6 296.5,724.6 C301.2,724.6 308.9,725.2 315.0,725.4 C321.1,725.7 328.1,725.8 333.2,726.2 C338.3,726.7 340.9,727.1 345.5,727.9 C350.2,728.6 355.5,729.5 361.1,730.5 C366.7,731.6 372.9,733.3 379.0,734.3 C385.1,735.3 394.3,736.2 397.8,736.4 C401.3,736.7 398.4,735.8 400.0,735.9 C401.6,736.0 401.4,737.0 407.2,737.0 C413.0,736.9 425.5,736.0 434.8,735.6 C444.1,735.2 455.2,735.0 462.9,734.6 C470.7,734.1 475.3,733.6 481.4,732.7 C487.6,731.7 495.3,729.7 499.9,728.9 C504.5,728.2 505.9,728.6 509.0,728.1 C512.1,727.7 515.3,726.4 518.4,726.2 C521.5,726.1 522.9,726.7 527.5,727.1 C532.1,727.5 541.3,728.2 546.0,728.7 C550.6,729.1 552.3,729.2 555.4,729.7 C558.4,730.2 561.4,730.9 564.5,731.6 C567.5,732.3 570.8,733.3 573.8,734.0 C576.9,734.8 578.3,736.0 582.9,736.2 C587.5,736.3 595.3,735.3 601.4,735.1 C607.6,734.9 613.8,735.0 619.9,734.8 C626.1,734.7 632.2,734.6 638.4,734.3 C644.6,734.0 650.7,733.6 656.9,733.2 C663.0,732.8 670.7,732.3 675.4,731.9 C680.0,731.5 681.7,731.0 684.7,730.8 C687.8,730.6 689.2,730.5 693.8,730.5 C698.4,730.6 707.7,730.8 712.3,731.1 C717.0,731.3 718.6,731.5 721.7,731.9 C724.8,732.2 726.2,732.7 730.8,733.2 C735.4,733.7 743.1,734.1 749.3,734.8 C755.4,735.5 761.6,736.7 767.8,737.5 C773.9,738.3 781.5,739.3 786.2,739.6 C791.0,740.0 794.1,739.7 796.4,739.6 C798.7,739.6 797.1,739.2 800.0,739.4 C802.9,739.6 809.5,740.2 813.9,740.7 C818.4,741.2 820.6,741.9 826.8,742.3 C832.9,742.7 843.8,742.8 850.9,743.1 C858.0,743.5 863.2,744.2 869.4,744.5 C875.5,744.7 881.7,744.7 887.9,744.5 C894.0,744.2 900.2,743.6 906.3,743.1 C912.5,742.6 918.4,741.8 924.6,741.5 C930.7,741.2 935.3,741.5 943.0,741.5 C950.8,741.6 963.2,741.6 970.9,741.8 C978.6,742.0 984.8,742.4 989.4,742.9 C994.0,743.3 993.9,744.1 998.5,744.7 C1003.1,745.4 1010.8,746.4 1017.0,746.6 C1023.1,746.8 1029.3,746.2 1035.4,745.8 C1041.6,745.4 1047.8,744.9 1053.9,744.5 C1060.1,744.1 1066.2,743.8 1072.4,743.4 C1078.6,743.0 1084.7,742.7 1090.9,742.3 C1097.1,742.0 1104.8,741.8 1109.4,741.2 C1114.0,740.7 1113.9,740.5 1118.5,738.8 C1123.1,737.1 1131.7,733.0 1137.0,731.1 C1142.2,729.2 1145.9,728.9 1150.0,727.5 C1154.1,726.1 1157.7,724.0 1161.6,722.6 C1165.5,721.3 1168.1,720.1 1173.2,719.4 C1178.3,718.6 1186.1,718.1 1192.2,718.0 C1198.3,717.9 1203.9,718.5 1210.0,719.0 C1216.1,719.4 1224.3,720.5 1229.0,720.7 C1233.6,720.9 1235.1,720.6 1238.1,720.3 C1241.0,720.0 1245.3,719.2 1246.8,719.0" fill="none" stroke="#2962ff" stroke-width="1.1" stroke-linejoin="round" />
<path d="M10.2,743.9 C14.7,743.8 28.3,743.1 37.5,742.9 C46.7,742.6 58.5,742.4 65.6,742.6 C72.8,742.8 74.2,743.2 80.4,743.9 C86.5,744.7 95.8,746.1 102.6,747.1 C109.4,748.2 115.0,749.4 121.1,750.4 C127.1,751.3 132.9,752.3 139.0,753.0 C145.2,753.8 151.9,754.6 158.0,754.9 C164.2,755.2 169.8,755.3 176.0,754.9 C182.1,754.6 188.8,753.6 195.0,752.8 C201.2,752.0 206.8,751.2 212.9,750.1 C219.1,748.9 225.4,747.4 231.7,745.8 C237.9,744.2 244.3,742.1 250.4,740.4 C256.6,738.8 262.5,737.3 268.7,735.9 C274.8,734.5 280.9,733.0 287.1,731.9 C293.3,730.8 299.7,729.9 305.9,729.2 C312.1,728.5 317.9,728.1 324.1,727.9 C330.3,727.6 336.7,727.4 342.9,727.6 C349.0,727.8 355.0,728.6 361.1,729.2 C367.1,729.8 372.9,730.4 379.0,731.1 C385.1,731.7 394.3,732.7 397.8,732.9 C401.3,733.2 396.9,732.5 400.0,732.7 C403.1,732.9 410.3,733.7 416.1,734.0 C421.9,734.3 427.0,734.5 434.8,734.6 C442.6,734.6 455.2,734.6 462.9,734.6 C470.7,734.5 475.3,734.4 481.4,734.0 C487.6,733.7 493.8,733.0 499.9,732.4 C506.1,731.8 512.2,731.1 518.4,730.5 C524.6,730.0 530.7,729.4 536.9,729.2 C543.0,729.0 549.2,728.9 555.4,729.2 C561.5,729.5 568.5,730.5 573.8,731.1 C579.2,731.6 582.9,732.1 587.5,732.4 C592.1,732.8 596.0,732.9 601.4,733.2 C606.8,733.5 613.8,733.8 619.9,734.0 C626.1,734.2 632.2,734.3 638.4,734.3 C644.6,734.2 650.7,734.0 656.9,733.8 C663.0,733.5 669.2,733.2 675.4,732.9 C681.5,732.7 687.7,732.3 693.8,732.1 C700.0,732.0 707.7,732.0 712.3,731.9 C717.0,731.8 717.1,731.5 721.7,731.6 C726.3,731.7 734.0,732.0 740.2,732.4 C746.3,732.8 752.5,733.4 758.7,734.0 C764.8,734.6 771.0,735.6 777.1,736.2 C783.3,736.7 791.8,737.4 795.6,737.5 C799.4,737.6 796.9,736.9 800.0,737.0 C803.1,737.1 808.5,737.5 813.9,738.0 C819.3,738.5 826.2,739.4 832.4,739.9 C838.6,740.4 844.7,740.6 850.9,741.0 C857.1,741.3 863.2,741.7 869.4,742.1 C875.5,742.4 881.7,742.7 887.9,742.9 C894.0,743.0 900.2,743.2 906.3,743.1 C912.5,743.1 918.4,742.7 924.6,742.6 C930.7,742.5 935.3,742.6 943.0,742.6 C950.8,742.5 963.2,742.4 970.9,742.3 C978.6,742.3 983.2,742.2 989.4,742.3 C995.5,742.5 1001.7,742.8 1007.9,743.1 C1014.0,743.4 1020.2,743.9 1026.3,744.2 C1032.5,744.5 1038.7,744.7 1044.8,744.7 C1051.0,744.8 1057.1,744.6 1063.3,744.5 C1069.5,744.3 1075.6,744.1 1081.8,743.9 C1087.9,743.8 1094.2,743.6 1100.3,743.4 C1106.4,743.2 1112.4,743.2 1118.5,742.6 C1124.6,742.0 1131.7,740.8 1137.0,739.6 C1142.2,738.5 1145.9,737.0 1150.0,735.8 C1154.1,734.6 1157.7,733.6 1161.6,732.5 C1165.5,731.4 1168.1,730.2 1173.2,729.0 C1178.3,727.8 1186.1,726.4 1192.2,725.4 C1198.3,724.3 1203.9,723.5 1210.0,722.8 C1216.1,722.2 1222.8,722.0 1229.0,721.7 C1235.1,721.4 1243.8,721.2 1246.8,721.1" fill="none" stroke="#ff6d00" stroke-width="1.1" stroke-linejoin="round" />
</g>
<text x="17.9" y="731.8" font-size="12" fill="#50535e" font-weight="normal" text-anchor="start" textLength="30.2" lengthAdjust="spacingAndGlyphs" >MACD</text>
<text x="55.7" y="731.8" font-size="12" fill="#26a69a" font-weight="normal" text-anchor="start" textLength="22.5" lengthAdjust="spacingAndGlyphs" >3.38</text>
<text x="85.9" y="731.8" font-size="12" fill="#2962ff" font-weight="normal" text-anchor="start" textLength="29.2" lengthAdjust="spacingAndGlyphs" >37.80</text>
<text x="122.7" y="731.8" font-size="12" fill="#ff6d00" font-weight="normal" text-anchor="start" textLength="29.2" lengthAdjust="spacingAndGlyphs" >34.42</text>
<g shape-rendering="crispEdges">
<rect x="1494" y="28" width="1" height="763" fill="#2a2e39"/>
<rect x="11" y="764" width="1546" height="1" fill="#2a2e39"/>
</g>
<text x="20" y="782" font-size="12" fill="#50535e" font-weight="normal" text-anchor="middle" textLength="12.5" lengthAdjust="spacingAndGlyphs" >18</text>
<text x="111.5" y="782" font-size="12" fill="#50535e" font-weight="normal" text-anchor="middle" textLength="18.6" lengthAdjust="spacingAndGlyphs" >Oct</text>
<text x="204.5" y="782" font-size="12" fill="#50535e" font-weight="normal" text-anchor="middle" textLength="12.5" lengthAdjust="spacingAndGlyphs" >16</text>
<text x="314.5" y="782" font-size="12" fill="#50535e" font-weight="normal" text-anchor="middle" textLength="19.8" lengthAdjust="spacingAndGlyphs" >Nov</text>
<text x="434.5" y="782" font-size="12" fill="#50535e" font-weight="normal" text-anchor="middle" textLength="12.5" lengthAdjust="spacingAndGlyphs" >20</text>
<text x="517.5" y="782" font-size="12" fill="#50535e" font-weight="normal" text-anchor="middle" textLength="19.6" lengthAdjust="spacingAndGlyphs" >Dec</text>
<text x="619.5" y="782" font-size="12" fill="#50535e" font-weight="normal" text-anchor="middle" textLength="12.5" lengthAdjust="spacingAndGlyphs" >18</text>
<text x="711.5" y="782" font-size="12" fill="#131722" font-weight="bold" text-anchor="middle" textLength="27.8" lengthAdjust="spacingAndGlyphs" >2024</text>
<text x="804.5" y="782" font-size="12" fill="#50535e" font-weight="normal" text-anchor="middle" textLength="12.5" lengthAdjust="spacingAndGlyphs" >15</text>
<text x="924.5" y="782" font-size="12" fill="#50535e" font-weight="normal" text-anchor="middle" textLength="19.3" lengthAdjust="spacingAndGlyphs" >Feb</text>
<text x="1035.5" y="782" font-size="12" fill="#50535e" font-weight="normal" text-anchor="middle" textLength="12.5" lengthAdjust="spacingAndGlyphs" >19</text>
<text x="1118.5" y="782" font-size="12" fill="#50535e" font-weight="normal" text-anchor="middle" textLength="19.3" lengthAdjust="spacingAndGlyphs" >Mar</text>
<text x="1219.5" y="782" font-size="12" fill="#50535e" font-weight="normal" text-anchor="middle" textLength="12.5" lengthAdjust="spacingAndGlyphs" >18</text>
<text x="1311.5" y="782" font-size="12" fill="#50535e" font-weight="normal" text-anchor="middle" textLength="18.2" lengthAdjust="spacingAndGlyphs" >Apr</text>
<text x="1404.5" y="782" font-size="12" fill="#50535e" font-weight="normal" text-anchor="middle" textLength="12.5" lengthAdjust="spacingAndGlyphs" >15</text>
<text x="1502.3" y="145.9" font-size="12" fill="#50535e" font-weight="normal" text-anchor="start" textLength="41.7" lengthAdjust="spacingAndGlyphs" >2180.00</text>
<text x="1502.3" y="180.9" font-size="12" fill="#50535e" font-weight="normal" text-anchor="start" textLength="41.7" lengthAdjust="spacingAndGlyphs" >2160.00</text>
<text x="1502.3" y="215.9" font-size="12" fill="#50535e" font-weight="normal" text-anchor="start" textLength="41.7" lengthAdjust="spacingAndGlyphs" >2140.00</text>
<text x="1502.3" y="250.9" font-size="12" fill="#50535e" font-weight="normal" text-anchor="start" textLength="41.7" lengthAdjust="spacingAndGlyphs" >2120.00</text>
<text x="1502.3" y="285.9" font-size="12" fill="#50535e" font-weight="normal" text-anchor="start" textLength="41.7" lengthAdjust="spacingAndGlyphs" >2100.00</text>
<text x="1502.3" y="355.9" font-size="12" fill="#50535e" font-weight="normal" text-anchor="start" textLength="41.7" lengthAdjust="spacingAndGlyphs" >2060.00</text>
<text x="1502.3" y="390.9" font-size="12" fill="#50535e" font-weight="normal" text-anchor="start" textLength="41.7" lengthAdjust="spacingAndGlyphs" >2040.00</text>
<text x="1502.3" y="425.9" font-size="12" fill="#50535e" font-weight="normal" text-anchor="start" textLength="41.7" lengthAdjust="spacingAndGlyphs" >2020.00</text>
<text x="1502.3" y="460.9" font-size="12" fill="#50535e" font-weight="normal" text-anchor="start" textLength="41.7" lengthAdjust="spacingAndGlyphs" >2000.00</text>
<text x="1502.3" y="530.9" font-size="12" fill="#50535e" font-weight="normal" text-anchor="start" textLength="41.7" lengthAdjust="spacingAndGlyphs" >1960.00</text>
<text x="1502.3" y="565.9" font-size="12" fill="#50535e" font-weight="normal" text-anchor="start" textLength="41.7" lengthAdjust="spacingAndGlyphs" >1940.00</text>
<text x="1502.3" y="600.9" font-size="12" fill="#50535e" font-weight="normal" text-anchor="start" textLength="41.7" lengthAdjust="spacingAndGlyphs" >1920.00</text>
<text x="1502.3" y="110.9" font-size="12" fill="#50535e" font-weight="normal" text-anchor="start" textLength="41.7" lengthAdjust="spacingAndGlyphs" >2200.00</text>
<text x="1502.3" y="75.9" font-size="12" fill="#50535e" font-weight="normal" text-anchor="start" textLength="41.7" lengthAdjust="spacingAndGlyphs" >2220.00</text>
<text x="1502.3" y="669.5" font-size="12" fill="#50535e" font-weight="normal" text-anchor="start" textLength="29.3" lengthAdjust="spacingAndGlyphs" >50.00</text>
<text x="1502.3" y="685.9" font-size="12" fill="#131722" font-weight="normal" text-anchor="start" textLength="29.3" lengthAdjust="spacingAndGlyphs" >36.54</text>
<text x="1502.3" y="699.4" font-size="12" fill="#50535e" font-weight="normal" text-anchor="start" textLength="29.3" lengthAdjust="spacingAndGlyphs" >25.00</text>
<path d="M1494.5,61h53.5q2,0 2,2v10q0,2 -2,2h-53.5z" fill="#000"/>
<text x="1502.3" y="70.9" font-size="12" fill="#fff" font-weight="normal" text-anchor="start" textLength="41.7" lengthAdjust="spacingAndGlyphs" stroke="#fff" stroke-width="0.3">2222.91</text>
<path d="M1494.5,123.3h53.5q2,0 2,2v11.200000000000003q0,2 -2,2h-53.5z" fill="#000"/>
<text x="1502.3" y="135.1" font-size="12" fill="#fff" font-weight="normal" text-anchor="start" textLength="41.7" lengthAdjust="spacingAndGlyphs" stroke="#fff" stroke-width="0.3">2195.15</text>
<path d="M1494.5,191.3h53.5q2,0 2,2v12.199999999999989q0,2 -2,2h-53.5z" fill="#000"/>
<text x="1502.3" y="203.6" font-size="12" fill="#fff" font-weight="normal" text-anchor="start" textLength="41.7" lengthAdjust="spacingAndGlyphs" stroke="#fff" stroke-width="0.3">2146.79</text>
<path d="M1494.5,304.5h53.5q2,0 2,2v12.5q0,2 -2,2h-53.5z" fill="#131722"/>
<text x="1502.3" y="316.6" font-size="12" fill="#fff" font-weight="normal" text-anchor="start" textLength="41.7" lengthAdjust="spacingAndGlyphs" stroke="#fff" stroke-width="0.3">2082.26</text>
<path d="M1494.5,321h53.5q2,0 2,2v13.600000000000023q0,2 -2,2h-53.5z" fill="#131722"/>
<text x="1502.3" y="333.8" font-size="12" fill="#fff" font-weight="normal" text-anchor="start" textLength="41.7" lengthAdjust="spacingAndGlyphs" stroke="#fff" stroke-width="0.3">2081.82</text>
<path d="M1494.5,338.6h53.5q2,0 2,2v12.299999999999955q0,2 -2,2h-53.5z" fill="#3129ff"/>
<text x="1502.3" y="350.6" font-size="12" fill="#fff" font-weight="normal" text-anchor="start" textLength="41.7" lengthAdjust="spacingAndGlyphs" stroke="#fff" stroke-width="0.3">2065.72</text>
<path d="M1494.5,361.4h53.5q2,0 2,2v12.300000000000011q0,2 -2,2h-53.5z" fill="#000"/>
<text x="1502.3" y="373.7" font-size="12" fill="#fff" font-weight="normal" text-anchor="start" textLength="41.7" lengthAdjust="spacingAndGlyphs" stroke="#fff" stroke-width="0.3">2049.90</text>
<path d="M1494.5,431.2h53.5q2,0 2,2v12.600000000000023q0,2 -2,2h-53.5z" fill="#000"/>
<text x="1502.3" y="443.7" font-size="12" fill="#fff" font-weight="normal" text-anchor="start" textLength="41.7" lengthAdjust="spacingAndGlyphs" stroke="#fff" stroke-width="0.3">2009.75</text>
<path d="M1494.5,476.4h53.5q2,0 2,2v12.800000000000011q0,2 -2,2h-53.5z" fill="#f23645"/>
<text x="1502.3" y="488.6" font-size="12" fill="#fff" font-weight="normal" text-anchor="start" textLength="41.7" lengthAdjust="spacingAndGlyphs" stroke="#fff" stroke-width="0.3">1984.16</text>
<path d="M1494.5,493.2h53.5q2,0 2,2v12.5q0,2 -2,2h-53.5z" fill="#f23645"/>
<text x="1502.3" y="505.6" font-size="12" fill="#fff" font-weight="normal" text-anchor="start" textLength="41.7" lengthAdjust="spacingAndGlyphs" stroke="#fff" stroke-width="0.3">1983.12</text>
<path d="M1494.5,560.2h53.5q2,0 2,2v12.5q0,2 -2,2h-53.5z" fill="#f23645"/>
<text x="1502.3" y="572.7" font-size="12" fill="#fff" font-weight="normal" text-anchor="start" textLength="41.7" lengthAdjust="spacingAndGlyphs" stroke="#fff" stroke-width="0.3">1936.04</text>
<path d="M1494.5,91h57.5q2,0 2,2v26.8q0,2 -2,2h-57.5z" fill="#26a69a"/>
<text x="1502.3" y="103.8" font-size="12" fill="#fff" font-weight="normal" text-anchor="start" textLength="41.7" lengthAdjust="spacingAndGlyphs" stroke="#fff" stroke-width="0.3">2204.00</text>
<text x="1502.6" y="117.9" font-size="12" fill="#d6efec" font-weight="normal" text-anchor="start" textLength="45.8" lengthAdjust="spacingAndGlyphs" >13:33:00</text>
<path d="M1492.9,91h-49.90000000000009q-2,0 -2,2v13q0,2 2,2h49.90000000000009z" fill="#26a69a"/>
<text x="1488.3" y="103.8" font-size="12" fill="#fff" font-weight="normal" text-anchor="end" textLength="42.0" lengthAdjust="spacingAndGlyphs" stroke="#fff" stroke-width="0.3">XAUUSD</text>
<path d="M1492.8,338.6h-48.59999999999991q-2,0 -2,2v12.299999999999955q0,2 2,2h48.59999999999991z" fill="#3129ff"/>
<text x="1488.3" y="350.6" font-size="12" fill="#fff" font-weight="normal" text-anchor="end" textLength="40.9" lengthAdjust="spacingAndGlyphs" stroke="#fff" stroke-width="0.3">SMA:MA</text>
<path d="M1492.8,493.2h-48.59999999999991q-2,0 -2,2v12.5q0,2 2,2h48.59999999999991z" fill="#f23645"/>
<text x="1488.3" y="505.6" font-size="12" fill="#fff" font-weight="normal" text-anchor="end" textLength="40.9" lengthAdjust="spacingAndGlyphs" stroke="#fff" stroke-width="0.3">SMA:MA</text>
<rect x="1413.1" y="612.5" width="80.5" height="13.6" fill="#ffeb3b"/>
<text x="1487.5" y="622" font-size="12" fill="#131722" font-weight="normal" text-anchor="end" textLength="69.5" lengthAdjust="spacingAndGlyphs" >RSI-based MA</text>
<rect x="1494.5" y="612.5" width="42.2" height="13.6" fill="#ffeb3b"/>
<text x="1502.6" y="622" font-size="12" fill="#131722" font-weight="normal" text-anchor="start" textLength="29.3" lengthAdjust="spacingAndGlyphs" >75.44</text>
<path d="M1492.4,626.6h-22.90000000000009q-2,0 -2,2v12.0q0,2 2,2h22.90000000000009z" fill="#7e57c2"/>
<text x="1488.1" y="638.4" font-size="12" fill="#fff" font-weight="normal" text-anchor="end" textLength="15.9" lengthAdjust="spacingAndGlyphs" stroke="#fff" stroke-width="0.3">RSI</text>
<path d="M1494.5,626.6h40.2q2,0 2,2v12.0q0,2 -2,2h-40.2z" fill="#7e57c2"/>
<text x="1502.3" y="638.4" font-size="12" fill="#fff" font-weight="normal" text-anchor="start" textLength="29.3" lengthAdjust="spacingAndGlyphs" stroke="#fff" stroke-width="0.3">75.40</text>
<rect x="1403.8" y="674.1" width="89.8" height="17.2" fill="#fff"/>
<text x="1487.5" y="685.7" font-size="12" fill="#131722" font-weight="normal" text-anchor="end" textLength="78.2" lengthAdjust="spacingAndGlyphs" >Regular Bullish</text>
<rect x="1452" y="712.5" width="85" height="3" fill="#2962ff"/>
<path d="M1492.4,713.4h-38.600000000000136q-2,0 -2,2v13.0q0,2 2,2h38.600000000000136z" fill="#ff6d00"/>
<text x="1487.5" y="726" font-size="12" fill="#fff" font-weight="normal" text-anchor="end" textLength="31.3" lengthAdjust="spacingAndGlyphs" stroke="#fff" stroke-width="0.3">Signal</text>
<path d="M1494.5,713.4h40.2q2,0 2,2v13.0q0,2 -2,2h-40.2z" fill="#ff6d00"/>
<text x="1502.3" y="726" font-size="12" fill="#fff" font-weight="normal" text-anchor="start" textLength="29.3" lengthAdjust="spacingAndGlyphs" stroke="#fff" stroke-width="0.3">34.42</text>
<path d="M1492.4,732.3h-61.40000000000009q-2,0 -2,2v12.0q0,2 2,2h61.40000000000009z" fill="#26a69a"/>
<text x="1487.5" y="744.2" font-size="12" fill="#fff" font-weight="normal" text-anchor="end" textLength="53.7" lengthAdjust="spacingAndGlyphs" stroke="#fff" stroke-width="0.3">Histogram</text>
<path d="M1494.5,732.3h34.1q2,0 2,2v12.0q0,2 -2,2h-34.1z" fill="#26a69a"/>
<text x="1502.3" y="744.2" font-size="12" fill="#fff" font-weight="normal" text-anchor="start" textLength="23.0" lengthAdjust="spacingAndGlyphs" stroke="#fff" stroke-width="0.3">3.38</text>
<rect x="1498" y="31.5" width="56" height="25.3" rx="4" fill="#fff" stroke="#e6e8ee"/>
<text x="1507.3" y="49" font-size="12" fill="#131722" font-weight="normal" text-anchor="start" textLength="20.7" lengthAdjust="spacingAndGlyphs" >USD</text>
<g fill="#131722"><path d="M9.95,804H17.8V813.7H13.9V807.9H9.95Z"/><circle cx="21" cy="806.1" r="2.1"/><path d="M25.2,804H29.7L25.6,813.7H21Z"/></g>
<text x="32.9" y="813.7" font-size="13" fill="#20232e" font-weight="normal" text-anchor="start" textLength="70.4" lengthAdjust="spacingAndGlyphs" >TradingView</text>
<filter id="bl" x="-5%" y="-5%" width="110%" height="110%"><feGaussianBlur stdDeviation="0.6"/></filter>
<g transform="translate(1316.5,782.5) skewX(-14)" font-family="'Liberation Sans','Noto Sans CJK SC',sans-serif" font-weight="900" font-size="62">
<mask id="wm" maskUnits="userSpaceOnUse" x="-20" y="-70" width="300" height="100"><rect x="-20" y="-70" width="300" height="100" fill="#fff"/><text x="0" y="0" style="font-family:'Liberation Sans','Noto Sans CJK SC',sans-serif;font-weight:900" fill="#000" textLength="240" lengthAdjust="spacingAndGlyphs">海马财经</text></mask>
<g mask="url(#wm)"><text x="2.1" y="1.9" style="font-family:'Liberation Sans','Noto Sans CJK SC',sans-serif;font-weight:900" fill="#30343f" fill-opacity="0.7" filter="url(#bl)" textLength="240" lengthAdjust="spacingAndGlyphs">海马财经</text></g>
<text x="0" y="0" style="font-family:'Liberation Sans','Noto Sans CJK SC',sans-serif;font-weight:900" fill="#fff" fill-opacity="0.62" textLength="240" lengthAdjust="spacingAndGlyphs">海马财经</text>
</g>
<g font-family="'Liberation Sans',sans-serif" font-weight="bold" font-style="italic" font-size="32.5">
<text x="1334.2" y="822.2" fill="#5b6ea8" fill-opacity="0.55" textLength="223" lengthAdjust="spacing">zzrt01.cn</text>
<text x="1333" y="821.2" fill="#8fa8f8" textLength="223" lengthAdjust="spacing">zzrt01.cn</text>
</g>
</svg></body></html>
